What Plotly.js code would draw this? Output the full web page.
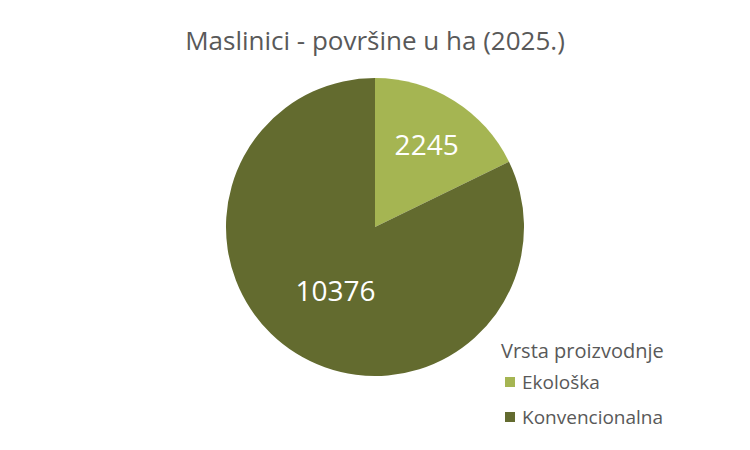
<!DOCTYPE html>
<html><head><meta charset="utf-8">
<script src="https://cdn.plot.ly/plotly-3.0.1.min.js"></script>
<style>body{margin:0;background:#fff}#c{width:750px;height:450px}</style>
</head><body><div id="c"></div>
<script>
const categories = ["Ekološka", "Konvencionalna"];
const values = [2245, 10376];
const colors = ["#A5B552", "#636B2F"];
const legendTitle = "Vrsta proizvodnje";
const chartTitle = "Maslinici - površine u ha (2025.)";

const FONT = "Open Sans, Liberation Sans, sans-serif";
const data = [{
  type: "pie",
  labels: categories,
  values: values,
  sort: false,
  direction: "clockwise",
  rotation: 0,
  marker: {colors: colors, line: {width: 0}},
  texttemplate: "%{value:.0f}",
  textposition: "inside",
  insidetextorientation: "horizontal",
  textfont: {family: FONT, size: 28, color: "#ffffff"},
  hoverinfo: "label+value",
  domain: {x: [0.3013, 0.6987], y: [0.1644, 0.8267]},
  showlegend: false
}];

// legend drawn with annotations + shapes (paper coords)
const annotations = [{
  text: legendTitle, xref: "paper", yref: "paper",
  x: 499 / 750, xanchor: "left", y: 1 - 350 / 450, yanchor: "middle",
  showarrow: false, font: {family: FONT, size: 20, color: "#595959"}
}];
const shapes = [];
const rowY = [382, 417];
categories.forEach((c, i) => {
  const yc = rowY[i];
  shapes.push({type: "rect", xref: "paper", yref: "paper",
    x0: 505 / 750, x1: 515 / 750, y0: 1 - (yc + 5) / 450, y1: 1 - (yc - 5) / 450,
    fillcolor: colors[i], line: {width: 0}});
  annotations.push({text: c, xref: "paper", yref: "paper",
    x: 520 / 750, xanchor: "left", y: 1 - yc / 450, yanchor: "middle",
    showarrow: false, font: {family: FONT, size: 19, color: "#595959"}});
});

const layout = {
  width: 750, height: 450,
  margin: {l: 0, r: 0, t: 0, b: 0},
  paper_bgcolor: "#ffffff",
  title: {text: chartTitle, x: 0.5, xanchor: "center", y: 0.91, yanchor: "middle",
          font: {family: FONT, size: 26, color: "#595959"}},
  showlegend: false,
  annotations: annotations,
  shapes: shapes
};
Plotly.newPlot("c", data, layout, {displayModeBar: false, staticPlot: true});
</script></body></html>
